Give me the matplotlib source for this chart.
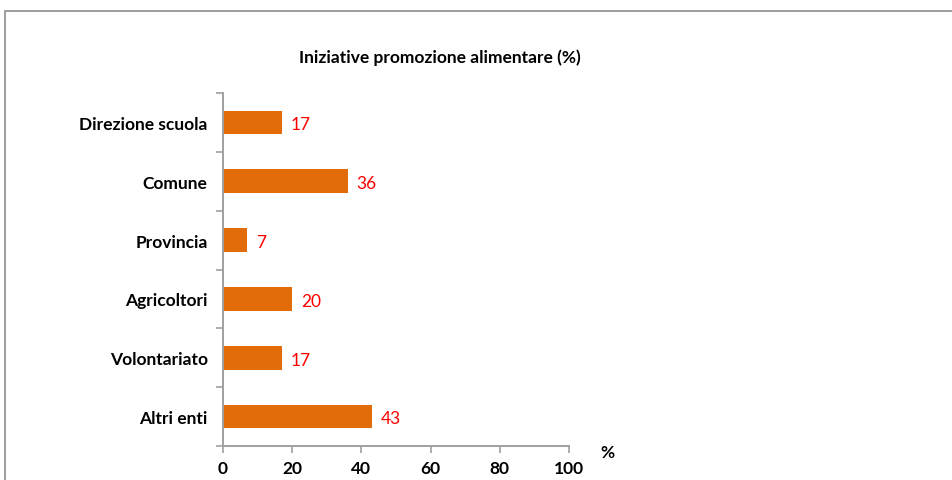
import matplotlib.pyplot as plt
from matplotlib.patches import Rectangle

categories = ["Direzione scuola", "Comune", "Provincia", "Agricoltori", "Volontariato", "Altri enti"]
values = [17, 36, 7, 20, 17, 43]
x_ticks = [0, 20, 40, 60, 80, 100]

BAR_COLOR = "#E36C0A"
AXIS_COLOR = "#A0A0A0"
FONT = ["Lato", "DejaVu Sans"]

plt.rcParams["font.family"] = FONT

fig = plt.figure(figsize=(9.52, 4.81), dpi=100)
ax = fig.add_axes([223 / 952, 34 / 481, 346 / 952, 353 / 481])

# outer frame (light gray, cut off at right/bottom like the reference)
fig.patches.append(Rectangle((5 / 952, -0.1), 1.2, 1 - 12 / 481 + 0.1,
                             transform=fig.transFigure, fill=False,
                             edgecolor="#8C8C8C", linewidth=1.2))

n = len(categories)
ypos = list(range(n))[::-1]
ax.barh(ypos, values, height=0.4, color=BAR_COLOR)

for y, v in zip(ypos, values):
    ax.text(v + 2.6, y - 0.03, str(v), color="red", va="center", ha="left", fontsize=12.5)

ax.set_xlim(0, 100)
ax.set_ylim(-0.5, n - 0.5)
ax.set_xticks(x_ticks)
ax.set_xticklabels([str(t) for t in x_ticks], fontsize=12.5, fontweight="bold")
ax.set_yticks(ypos)
ax.set_yticklabels(categories, fontsize=12.5, fontweight="bold")
ax.tick_params(axis="y", length=0, pad=11)
ax.set_yticks([i - 0.5 for i in range(n + 1)], minor=True)
ax.tick_params(axis="y", which="minor", length=5, color=AXIS_COLOR, width=1.2)
ax.tick_params(axis="x", length=5, color=AXIS_COLOR, width=1.2, pad=5)

for side in ["top", "right"]:
    ax.spines[side].set_visible(False)
for side in ["left", "bottom"]:
    ax.spines[side].set_color(AXIS_COLOR)
    ax.spines[side].set_linewidth(1.4)

fig.text(440 / 952, 1 - 58 / 481, "Iniziative promozione alimentare (%)",
         ha="center", va="center", fontsize=12.5, fontweight="bold")
fig.text(607 / 952, 1 - 453 / 481, "%", ha="center", va="center",
         fontsize=12.5, fontweight="bold")

fig.savefig("out.png", dpi=100)
